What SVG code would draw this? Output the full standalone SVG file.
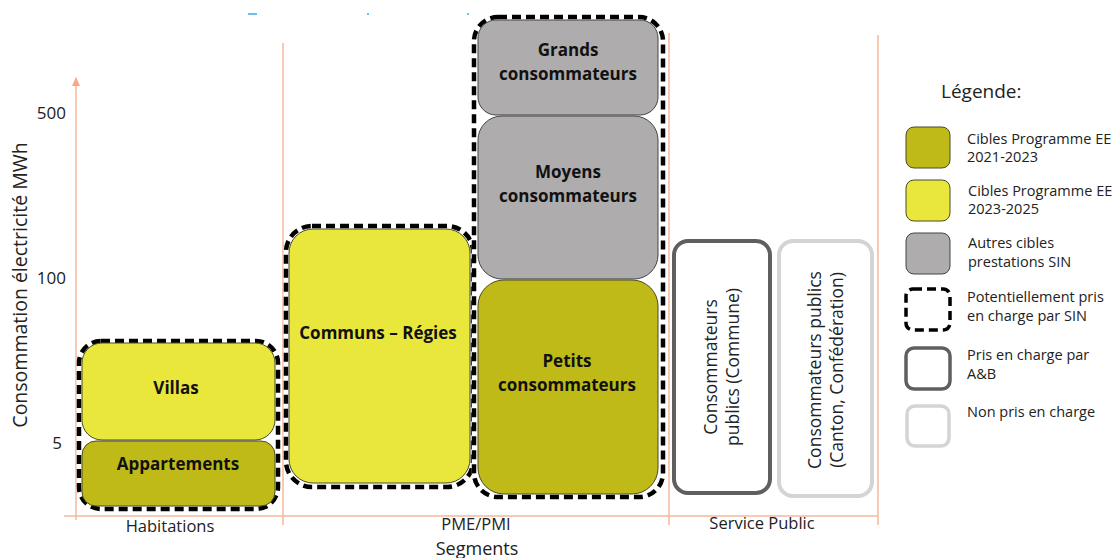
<svg xmlns="http://www.w3.org/2000/svg" width="1115" height="558" viewBox="0 0 1115 558">
<defs>
<style>
.axis{stroke:#f7b89a;stroke-width:1.5;fill:none}
.olive{fill:#bfba17;stroke:#4a4a2a;stroke-width:1}
.yellow{fill:#e9e73c;stroke:#4a4a2a;stroke-width:1}
.gray{fill:#aeacac;stroke:#444;stroke-width:1}
.dashw{fill:none;stroke:#fff;stroke-width:4.5}
.dash{fill:none;stroke:#000;stroke-width:4.5;stroke-dasharray:9 5}
.ab{fill:#fff;stroke:#5f5f5f;stroke-width:4}
.non{fill:#fff;stroke:#d4d4d4;stroke-width:4}
.lbl{font-family:"Open Sans","Liberation Sans",sans-serif;font-weight:bold;font-size:17px;fill:#111;text-anchor:middle}
.txt{font-family:"Open Sans","Liberation Sans",sans-serif;font-size:16.5px;fill:#222}
.leg{font-family:"Open Sans","Liberation Sans",sans-serif;font-size:14.5px;fill:#222}
</style>
</defs>
<rect width="1115" height="558" fill="#fff"/>
<g id="title-fragments" stroke="#6cc0ea" stroke-width="2">
<line x1="248" y1="14" x2="257" y2="14"/>
<line x1="367" y1="14" x2="369" y2="14"/>
<line x1="467" y1="14" x2="469" y2="14"/>
</g>
<g id="axes">
<line class="axis" x1="76" y1="520" x2="76" y2="78"/>
<path d="M72,86 L76,77 L80,86 Z" fill="#f7a885"/>
<line class="axis" x1="64" y1="516" x2="878" y2="516"/>
<line class="axis" x1="283" y1="43" x2="283" y2="525"/>
<line class="axis" x1="669" y1="33" x2="669" y2="525"/>
<line class="axis" x1="878" y1="35" x2="878" y2="525"/>
<text class="txt" x="66" y="119" text-anchor="end" style="font-size:17px">500</text>
<text class="txt" x="66" y="284" text-anchor="end" style="font-size:17px">100</text>
<text class="txt" x="62" y="449" text-anchor="end" style="font-size:17px">5</text>
<text class="txt" transform="translate(27,285) rotate(-90)" text-anchor="middle" style="font-size:19.5px">Consommation électricité MWh</text>
<text class="txt" x="170" y="532" text-anchor="middle">Habitations</text>
<text class="txt" x="476" y="530" text-anchor="middle">PME/PMI</text>
<text class="txt" x="762" y="529" text-anchor="middle">Service Public</text>
<text class="txt" x="477" y="555" text-anchor="middle" style="font-size:18px">Segments</text>
</g>
<g id="habitations">
<rect class="dashw" x="79" y="341" width="199" height="168" rx="22"/>
<rect class="dash" x="79" y="341" width="199" height="168" rx="22"/>
<g id="villas"><rect class="yellow" x="82" y="343" width="193" height="97" rx="20"/>
<text class="lbl" x="176" y="394">Villas</text></g>
<g id="appartements"><rect class="olive" x="82" y="441" width="193" height="65" rx="14"/>
<text class="lbl" x="178" y="470">Appartements</text></g>
</g>
<g id="communs">
<rect class="dashw" x="286" y="226" width="187" height="261" rx="26"/>
<rect class="dash" x="286" y="226" width="187" height="261" rx="26"/>
<rect class="yellow" x="289" y="229" width="181" height="254" rx="24"/>
<text class="lbl" x="378" y="339">Communs – Régies</text>
</g>
<g id="pme">
<rect class="dashw" x="474" y="17" width="189" height="480" rx="24"/>
<rect class="dash" x="474" y="17" width="189" height="480" rx="24"/>
<g id="grands"><rect class="gray" x="478" y="20" width="180" height="95" rx="18"/>
<text class="lbl" x="568" y="56">Grands</text>
<text class="lbl" x="568" y="80">consommateurs</text></g>
<g id="moyens"><rect class="gray" x="478" y="116" width="180" height="163" rx="24"/>
<text class="lbl" x="568" y="178">Moyens</text>
<text class="lbl" x="568" y="202">consommateurs</text></g>
<g id="petits"><rect class="olive" x="478" y="280" width="180" height="214" rx="26"/>
<text class="lbl" x="567" y="367">Petits</text>
<text class="lbl" x="567" y="391">consommateurs</text></g>
</g>
<g id="commune">
<rect class="ab" x="674" y="241" width="96" height="252" rx="14"/>
<text class="txt" transform="translate(722,367) rotate(-90)" text-anchor="middle" style="font-size:17.5px"><tspan x="0" y="-5">Consommateurs</tspan><tspan x="0" y="17">publics (Commune)</tspan></text>
</g>
<g id="canton">
<rect class="non" x="779" y="241" width="93" height="255" rx="14"/>
<text class="txt" transform="translate(826,370) rotate(-90)" text-anchor="middle" style="font-size:17.5px"><tspan x="0" y="-5">Consommateurs publics</tspan><tspan x="0" y="17">(Canton, Confédération)</tspan></text>
</g>
<g id="legende">
<text class="txt" x="941" y="98" style="font-size:19px">Légende:</text>
<rect class="olive" x="906" y="127" width="44" height="41" rx="8"/>
<text class="leg" x="967" y="144">Cibles Programme EE</text>
<text class="leg" x="967" y="162">2021-2023</text>
<rect class="yellow" x="906" y="180" width="44" height="41" rx="8"/>
<text class="leg" x="968" y="196">Cibles Programme EE</text>
<text class="leg" x="968" y="214">2023-2025</text>
<rect class="gray" x="906" y="233" width="44" height="41" rx="8"/>
<text class="leg" x="968" y="248">Autres cibles</text>
<text class="leg" x="968" y="267">prestations SIN</text>
<rect x="906" y="289" width="44" height="41" rx="7" style="fill:none;stroke:#000;stroke-width:3.5;stroke-dasharray:9 5"/>
<text class="leg" x="967" y="302">Potentiellement pris</text>
<text class="leg" x="967" y="321">en charge par SIN</text>
<rect class="ab" x="906" y="348" width="44" height="41" rx="8" style="stroke-width:3.5"/>
<text class="leg" x="967" y="360">Pris en charge par</text>
<text class="leg" x="967" y="379">A&amp;B</text>
<rect class="non" x="907" y="406" width="42" height="40" rx="8" style="stroke-width:3.5"/>
<text class="leg" x="967" y="417">Non pris en charge</text>
</g>
</svg>
